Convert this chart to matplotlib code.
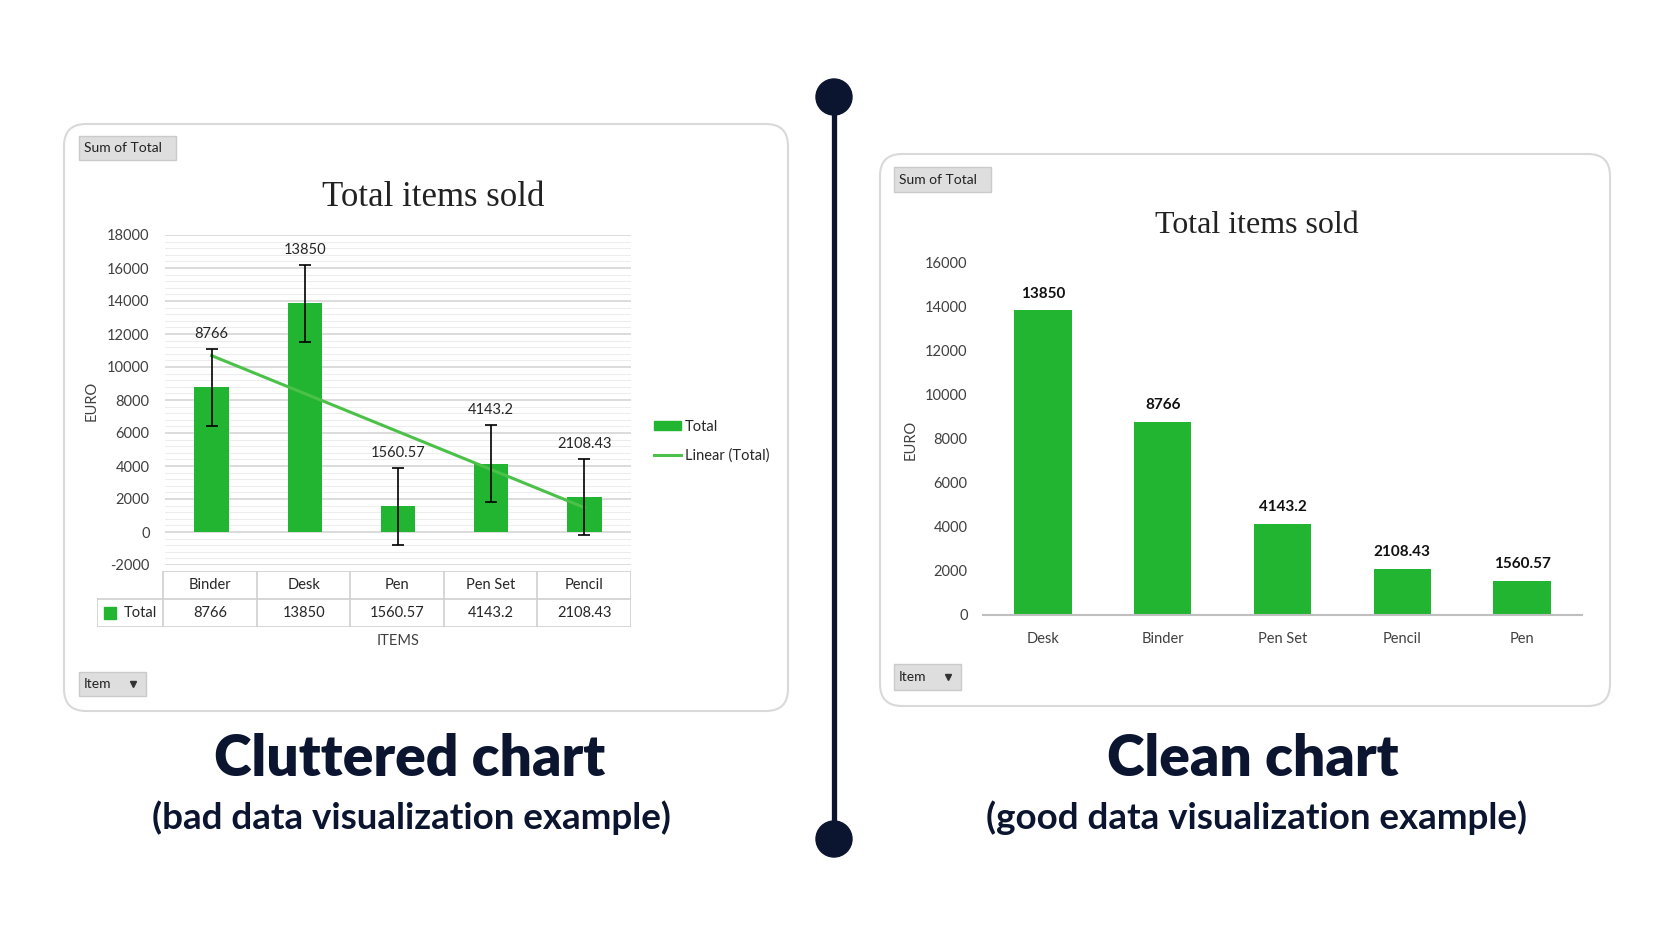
import numpy as np
import matplotlib.pyplot as plt
from matplotlib.patches import FancyBboxPatch, Rectangle, Circle, Patch
from matplotlib.lines import Line2D

# data
items = ['Binder', 'Desk', 'Pen', 'Pen Set', 'Pencil']
totals = [8766, 13850, 1560.57, 4143.2, 2108.43]
err_size = 2320          # error bar half-length
left_ticks = list(range(-2000, 18001, 2000))
right_ticks = list(range(0, 16001, 2000))

# clean chart shows the same data sorted high to low
order = sorted(range(len(items)), key=lambda i: -totals[i])
items_sorted = [items[i] for i in order]
totals_sorted = [totals[i] for i in order]

GREEN = '#21b531'
TREND = '#4cc14a'
NAVY = '#0b1530'
TXT = '#404040'
W, H = 1672, 941

plt.rcParams['font.family'] = ['Lato', 'DejaVu Sans']
plt.rcParams['axes.unicode_minus'] = False

fig = plt.figure(figsize=(W / 100, H / 100), dpi=100)


def fx(px):
    return px / W


def fy(py):
    return 1 - py / H


# background layer in pixel coordinates
bg = fig.add_axes([0, 0, 1, 1], zorder=0)
bg.set_xlim(0, W)
bg.set_ylim(H, 0)
bg.axis('off')

for x0, y0, x1, y1 in [(64, 124, 788, 711), (880, 154, 1610, 706)]:
    bg.add_patch(FancyBboxPatch((x0, y0), x1 - x0, y1 - y0,
                                boxstyle='round,pad=0,rounding_size=22',
                                fc='white', ec='#d9d9d9', lw=1.5))


def button(x0, y0, x1, y1, label, arrow=False):
    bg.add_patch(Rectangle((x0, y0), x1 - x0, y1 - y0, fc='#dedede', ec='#cacaca', lw=1))
    bg.text(x0 + 5, (y0 + y1) / 2, label, fontsize=10, color='#222222', ha='left', va='center')
    if arrow:
        bg.plot(x1 - 13, (y0 + y1) / 2, marker='v', ms=4, color='#333333')


button(79, 136, 176, 160, 'Sum of Total')
button(79, 672, 146, 696, 'Item', arrow=True)
button(894, 167, 991, 192, 'Sum of Total')
button(894, 664, 961, 690, 'Item', arrow=True)

# divider
bg.plot([834, 834], [97, 839], color=NAVY, lw=3.8, solid_capstyle='butt')
bg.add_patch(Circle((834, 97), 18, color=NAVY))
bg.add_patch(Circle((834, 839), 18, color=NAVY))

# captions
bg.text(410, 759, 'Cluttered chart', fontsize=41, fontweight='heavy', color=NAVY, ha='center', va='center')
bg.text(411, 818, '(bad data visualization example)', fontsize=26.5, fontweight='bold', color=NAVY,
        ha='center', va='center')
bg.text(1253, 759, 'Clean chart', fontsize=41, fontweight='heavy', color=NAVY, ha='center', va='center')
bg.text(1256, 818, '(good data visualization example)', fontsize=26.5, fontweight='bold', color=NAVY,
        ha='center', va='center')

# chart titles and axis labels
bg.text(433, 197, 'Total items sold', family='Liberation Serif', fontsize=25, color='#222222',
        ha='center', va='center')
bg.text(1257, 225, 'Total items sold', family='Liberation Serif', fontsize=23, color='#222222',
        ha='center', va='center')
bg.text(92, 401, 'EURO', rotation=90, fontsize=10.5, color=TXT, ha='center', va='center')
bg.text(911, 440, 'EURO', rotation=90, fontsize=10.5, color=TXT, ha='center', va='center')
bg.text(398, 641, 'ITEMS', fontsize=10.5, color=TXT, ha='center', va='center')

# ---- cluttered chart ----
ax1 = fig.add_axes([fx(165), fy(565), fx(631) - fx(165), fy(235) - fy(565)], zorder=2)
ax1.patch.set_alpha(0)
x = np.arange(len(items))
ax1.bar(x, totals, width=0.37, color=GREEN, zorder=2)
slope, icpt = np.polyfit(x, totals, 1)
ax1.plot(x, slope * x + icpt, color=TREND, lw=2.2, zorder=3)
ax1.errorbar(x, totals, yerr=err_size, fmt='none', ecolor='black', elinewidth=1.2,
             capsize=4, capthick=1.2, zorder=4)
ax1.set_xlim(-0.5, 4.5)
ax1.set_ylim(-2000, 18000)
ax1.set_yticks(left_ticks)
ax1.set_yticks(np.arange(-2000, 18001, 400), minor=True)
ax1.set_xticks([])
ax1.grid(which='major', axis='y', color='#d6d6d6', lw=1.2)
ax1.grid(which='minor', axis='y', color='#ededed', lw=0.8)
ax1.set_axisbelow(True)
for s in ax1.spines.values():
    s.set_visible(False)
ax1.tick_params(which='both', length=0)
ax1.tick_params(axis='y', pad=11, labelsize=10.5, labelcolor=TXT)

for xi, v in zip(x, totals):
    ax1.annotate(f'{v:g}', (xi, v + err_size), xytext=(0, 6), textcoords='offset points',
                 ha='center', va='bottom', fontsize=10.5, color='#262626')

handles = [Patch(color=GREEN), Line2D([], [], color=TREND, lw=2.2)]
ax1.legend(handles, ['Total', 'Linear (Total)'], loc='center left', bbox_to_anchor=(1.05, 0.375),
           frameon=False, fontsize=10.5, handlelength=1.8, handleheight=0.55, labelspacing=1.0,
           borderpad=0, borderaxespad=0, handletextpad=0.3, labelcolor='#262626')

# data table under the cluttered chart
tab = fig.add_axes([fx(97), fy(627), fx(631) - fx(97), fy(571) - fy(627)], zorder=2)
xl = -0.5 - 66 / 93.2
tab.set_xlim(xl, 4.5)
tab.set_ylim(0, 2)
tab.axis('off')
lc = '#d0d0d0'
tab.plot([-0.5, 4.5], [2, 2], color=lc, lw=1.2)
tab.plot([xl, 4.5], [1, 1], color=lc, lw=1.2)
tab.plot([xl, 4.5], [0, 0], color=lc, lw=1.2)
for xv in np.arange(-0.5, 4.6, 1):
    tab.plot([xv, xv], [0, 2], color=lc, lw=1.2)
tab.plot([xl, xl], [0, 1], color=lc, lw=1.2)
for xi, name, v in zip(x, items, totals):
    tab.text(xi, 1.5, name, ha='center', va='center', fontsize=10.5, color='#262626')
    tab.text(xi, 0.5, f'{v:g}', ha='center', va='center', fontsize=10.5, color='#262626')
tab.plot(xl + 0.14, 0.5, marker='s', ms=8, color=GREEN)
tab.text(xl + 0.29, 0.5, 'Total', ha='left', va='center', fontsize=10.5, color='#262626')

# ---- clean chart ----
ax2 = fig.add_axes([fx(983), fy(615), fx(1582) - fx(983), fy(263) - fy(615)], zorder=2)
ax2.patch.set_alpha(0)
x2 = np.arange(len(items_sorted))
bars = ax2.bar(x2, totals_sorted, width=0.48, color=GREEN)
ax2.set_xlim(-0.5, 4.5)
ax2.set_ylim(0, 16000)
ax2.set_yticks(right_ticks)
ax2.set_xticks(x2, items_sorted)
for side in ['left', 'top', 'right']:
    ax2.spines[side].set_visible(False)
ax2.spines['bottom'].set_color('#bfbfbf')
ax2.spines['bottom'].set_linewidth(1.5)
ax2.tick_params(length=0, labelsize=10.5, labelcolor=TXT)
ax2.tick_params(axis='y', pad=11)
ax2.tick_params(axis='x', pad=12)
ax2.bar_label(bars, labels=[f'{v:g}' for v in totals_sorted], padding=7,
              fontweight='bold', fontsize=11, color='#111111')

fig.savefig('out.png', dpi=100)
